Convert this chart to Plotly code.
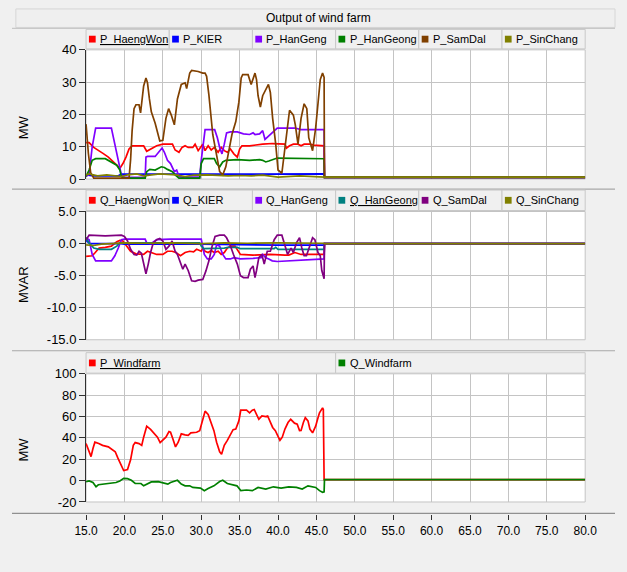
import plotly.graph_objects as go

# ---------------- data (time in s) ----------------
X_TICKS = [15, 20, 25, 30, 35, 40, 45, 50, 55, 60, 65, 70, 75, 80]
X_LABELS = ["15.0", "20.0", "25.0", "30.0", "35.0", "40.0", "45.0", "50.0",
            "55.0", "60.0", "65.0", "70.0", "75.0", "80.0"]
P_TICKS = [0, 10, 20, 30, 40]
P_LABELS = ["0", "10", "20", "30", "40"]
Q_TICKS = [-15, -10, -5, 0, 5]
Q_LABELS = ["-15.0", "-10.0", "-5.0", "0.0", "5.0"]
W_TICKS = [-20, 0, 20, 40, 60, 80, 100]
W_LABELS = ["-20", "0", "20", "40", "60", "80", "100"]

P_NAMES = ["P_HaengWon", "P_KIER", "P_HanGeng", "P_HanGeong", "P_SamDal", "P_SinChang"]
P_COLORS = ["#ff0000", "#0000ff", "#8000ff", "#008000", "#804000", "#808000"]
Q_NAMES = ["Q_HaengWon", "Q_KIER", "Q_HanGeng", "Q_HanGeong", "Q_SamDal", "Q_SinChang"]
Q_COLORS = ["#ff0000", "#0000ff", "#8000ff", "#008080", "#800080", "#808000"]
W_NAMES = ["P_Windfarm", "Q_Windfarm"]
W_COLORS = ["#ff0000", "#008000"]

P_HAENGWON = [(15, 11.3), (15.4, 11.3), (16, 9.8), (16.7, 8.8), (17.3, 7.8), (17.9, 6.8),
              (18.5, 5.6), (19, 4.3), (19.4, 3.3), (19.8, 4.8), (20.2, 6.8), (20.6, 9.3),
              (21, 10.3), (22.5, 10.3), (22.9, 8.6), (23.5, 9.3), (24.2, 10.3), (25, 10.8),
              (26.25, 10.8), (26.6, 9.0), (27.1, 8.3), (27.5, 9.8), (27.9, 10.3), (28.3, 9.8),
              (28.9, 9.8), (29.2, 10.8), (29.6, 8.8), (30.2, 10.8), (30.5, 8.8), (30.9, 10.3),
              (31.3, 9.0), (31.7, 9.8), (32.2, 8.3), (32.6, 9.8), (33, 8.8), (33.4, 8.3),
              (33.8, 9.3), (34.25, 7.8), (34.7, 6.8), (35, 9.3), (35.3, 10.3), (36.3, 10.3),
              (37.2, 10.6), (38, 10.8), (39.25, 11.0), (40.5, 11.0), (40.9, 10.8), (41.1, 9.6),
              (41.5, 10.3), (42, 10.8), (42.6, 10.8), (43, 10.3), (43.4, 10.8), (44.2, 10.8),
              (44.6, 10.5), (46.0, 10.3), (46.05, 0.5), (80, 0.5)]
P_KIER = [(15, 1.3), (16, 1.0), (19.2, 1.0), (19.6, 1.5), (30, 1.5), (35, 1.6), (46.0, 1.6),
          (46.05, 0.5), (80, 0.5)]
P_HANGENG = [(15, 0.8), (15.4, 1.5), (15.8, 10.0), (16.25, 15.8), (18.3, 15.8), (18.75, 10.8),
             (19.2, 5.8), (19.6, 1.3), (20.0, 0.5), (22.7, 0.5), (22.8, 6.8), (23.0, 7.0),
             (24.0, 7.0), (24.6, 8.8), (24.9, 9.6), (25.2, 8.3), (25.6, 5.8), (26.0, 4.8),
             (26.5, 2.3), (26.8, 2.8), (27.1, 0.8), (27.5, 0.6), (29.8, 0.6), (30.0, 5.8),
             (30.4, 14.8), (30.5, 15.3), (31.75, 15.3), (32.1, 12.8), (32.4, 9.8), (32.7, 7.8),
             (33.0, 10.8), (33.3, 14.3), (33.8, 14.6), (34.7, 14.6), (35.5, 14.0), (36.3, 13.8),
             (36.75, 14.3), (37.0, 13.8), (37.6, 14.0), (38.0, 15.0), (38.3, 12.3), (38.8, 13.3),
             (39.5, 14.8), (39.9, 15.8), (42.2, 15.8), (43.0, 15.3), (46.0, 15.3), (46.05, 0.5),
             (80, 0.5)]
P_HANGEONG = [(15, 0.8), (15.4, 2.8), (15.8, 5.8), (16.25, 6.3), (17.5, 6.3), (18.3, 5.3),
              (19.0, 4.3), (19.4, 2.8), (19.6, 0.8), (19.8, 0.3), (22.7, 0.3), (22.9, 2.3),
              (23.3, 3.0), (24.0, 2.8), (24.4, 3.3), (24.8, 3.8), (25.2, 3.6), (25.6, 3.0),
              (26.25, 2.3), (26.6, 1.3), (27.1, 0.3), (29.8, 0.3), (30.0, 4.8), (30.3, 6.3),
              (31.7, 6.3), (32.0, 4.8), (32.4, 3.8), (32.8, 5.3), (33.2, 5.8), (34.7, 6.0),
              (36.3, 5.8), (37.6, 6.0), (38.0, 5.8), (38.4, 5.3), (38.8, 5.6), (39.5, 6.1),
              (39.9, 6.5), (46.0, 6.3), (46.05, 0.5), (80, 0.5)]
P_SAMDAL = [(15, 17), (15.3, 8), (15.6, 2), (16.0, 0.3), (20.6, 0.3), (20.8, 6), (21.0, 15),
            (21.25, 21.8), (21.5, 23), (21.9, 23), (22.1, 20.5), (22.5, 28.8), (22.8, 31.3),
            (23.0, 29.8), (23.25, 24.8), (23.5, 20.8), (24.0, 17.3), (24.4, 13.8), (24.6, 11.8),
            (25.0, 12), (25.4, 18.8), (25.75, 21.8), (26.1, 19.8), (26.5, 16.8), (26.9, 24.8),
            (27.4, 29.3), (27.9, 29.8), (28.1, 28), (28.5, 32.8), (28.75, 33.6), (29.6, 33.3),
            (30.2, 32.8), (30.5, 32.8), (30.7, 31.8), (31.0, 26.0), (31.5, 13.8), (32.0, 6.8),
            (32.4, 2.3), (32.8, 1.3), (33.2, 3.8), (33.6, 8.8), (34.0, 13.8), (34.5, 17.8),
            (34.9, 23.8), (35.2, 31.3), (35.4, 32.3), (36.1, 32.3), (36.5, 29.3), (37.0, 32.8),
            (37.2, 30.8), (37.4, 25.8), (37.7, 22.3), (38.0, 25.8), (38.4, 27.8), (38.75, 29.3),
            (39.0, 26.8), (39.3, 18.8), (39.7, 10.8), (40.0, 2.8), (40.5, 1.8), (40.8, 7.8),
            (41.25, 17.8), (41.5, 21.3), (42.0, 19.8), (42.25, 16.8), (42.6, 10.8), (43.0, 18.8),
            (43.4, 23.3), (43.75, 21.8), (44.0, 12.8), (44.5, 8.8), (44.9, 15.8), (45.2, 23.8),
            (45.5, 30.8), (45.8, 32.8), (46.0, 31.5), (46.05, 0.5), (80, 0.5)]
P_SINCHANG = [(15, 1.3), (15.4, 1.6), (16.5, 1.0), (17.7, 1.3), (19.6, 0.8), (20.4, 1.3),
              (21.6, 1.6), (22.5, 1.0), (24.6, 1.6), (26.7, 1.3), (27.9, 0.8), (29, 1.2),
              (30.8, 1.3), (32, 1.1), (33.5, 1.0), (35, 1.1), (36.5, 1.0), (38, 1.2), (40, 0.6),
              (42.8, 1.0), (44, 0.9), (45.5, 0.6), (46.0, 0.6), (46.05, 0.6), (80, 0.6)]

Q_HAENGWON = [(15, -2.0), (15.8, -1.9), (16.2, -1.4), (16.7, -0.7), (17.5, -0.6), (18.3, -0.4),
              (19.0, 0.3), (19.4, 0.5), (19.8, 0.4), (20.2, -0.2), (20.8, -1.2), (21.5, -1.6),
              (22.5, -1.7), (23.0, -1.2), (23.5, -1.4), (24.2, -1.7), (25.0, -1.7), (25.6, -1.2),
              (26.2, -1.2), (26.7, -1.4), (27.3, -1.9), (27.9, -1.4), (28.5, -1.2), (29.0, -1.3),
              (29.4, -0.9), (30.0, -1.2), (30.2, -0.7), (30.5, -1.2), (30.9, -1.4), (31.3, -1.1),
              (31.7, -1.4), (32.2, -1.2), (32.6, -1.7), (33.0, -1.4), (33.4, -0.7), (33.8, -0.4),
              (34.4, -0.4), (34.7, -0.9), (35.1, -1.7), (36.75, -1.8), (39.0, -1.7), (40.9, -1.8),
              (41.4, -1.8), (42.2, -1.4), (43.0, -1.7), (46.0, -1.7), (46.05, 0.0), (80, 0.0)]
Q_KIER = [(15, 0.5), (15.5, 0.0), (19.5, 0.0), (20.0, -0.1), (30.0, -0.1), (35.0, -0.2),
          (39.9, -0.2), (40.0, -0.25), (46.0, -0.25), (46.05, 0.0), (80, 0.0)]
Q_HANGENG = [(15, 0.9), (15.4, 0.6), (15.8, -1.7), (16.25, -2.7), (18.3, -2.7), (18.75, -1.9),
             (19.2, -0.7), (19.6, 0.6), (20.0, 0.7), (22.7, 0.7), (22.9, 0.1), (23.5, 0.0),
             (24.2, 0.6), (26.0, 0.7), (30.0, 0.7), (30.2, -0.7), (30.4, -1.7), (30.8, -2.4),
             (31.3, -2.4), (31.7, -1.7), (32.0, -0.2), (32.4, -0.4), (32.8, -1.7), (33.2, -2.4),
             (33.8, -2.4), (34.25, -2.2), (35.1, -2.4), (36.75, -2.3), (37.8, -2.2), (38.0, -1.7),
             (38.4, -2.2), (38.8, -2.4), (39.25, -2.7), (39.9, -2.8), (46.0, -2.4), (46.05, 0.0),
             (80, 0.0)]
Q_HANGEONG = [(15, 0.9), (15.4, 0.1), (16.0, -0.7), (16.7, -0.9), (18.3, -0.9), (19.0, -0.4),
              (19.4, 0.1), (29.8, 0.1), (30.0, -0.4), (30.3, -0.8), (33.0, -0.7), (33.5, -0.6),
              (34.7, -0.6), (35.1, -0.8), (39.5, -0.8), (39.7, -0.6), (40.0, -0.9), (46.0, -0.9),
              (46.05, 0.0), (80, 0.0)]
Q_SAMDAL = [(15, 0.6), (15.4, 1.3), (17.5, 1.2), (19.6, 1.3), (20.0, 1.1), (20.4, 0.4),
            (20.8, -0.9), (21.25, -1.7), (21.6, -1.8), (21.9, -1.2), (22.2, -1.5), (22.5, -3.0),
            (22.8, -4.7), (23.1, -3.2), (23.4, -1.4), (23.75, 0.1), (24.2, 0.6), (24.6, 0.8),
            (25.0, 0.4), (25.4, -0.9), (25.8, -0.4), (26.2, 0.4), (26.6, -1.2), (26.9, -1.7),
            (27.3, -3.0), (27.6, -4.0), (27.9, -3.2), (28.3, -4.2), (28.75, -5.8), (29.2, -5.9),
            (29.6, -5.7), (30.2, -5.6), (30.6, -4.3), (31.0, -2.7), (31.4, -0.5), (31.8, 1.1),
            (32.4, 1.3), (33.0, 1.3), (33.3, 0.9), (33.75, -0.2), (34.2, -1.7), (34.7, -3.2),
            (35.1, -5.0), (35.5, -5.3), (36.1, -5.3), (36.4, -4.0), (36.75, -3.5), (37.0, -5.3),
            (37.2, -4.2), (37.5, -2.2), (37.9, -1.7), (38.2, -3.2), (38.6, -1.2), (39.0, -1.2),
            (39.5, 0.6), (39.9, 1.3), (40.5, 1.3), (40.9, -0.2), (41.25, -1.7), (41.7, -0.7),
            (42.0, -1.4), (42.4, 0.1), (42.8, 0.9), (43.1, -0.7), (43.4, -1.9), (43.7, -1.9),
            (44.0, -0.7), (44.5, 0.9), (44.8, 0.6), (45.2, -1.4), (45.5, -1.9), (45.7, -4.2),
            (46.0, -5.5), (46.05, 0.0), (80, 0.0)]
Q_SINCHANG = [(15, -0.2), (16, -0.3), (17, -0.1), (18, 0.0), (20, 0.1), (23, 0.05), (26, 0.1),
              (30, 0.0), (33, 0.1), (36, 0.05), (40, 0.1), (46.0, 0.05), (46.05, 0.0), (80, 0.0)]

P_WINDFARM = [(15, 34.7), (15.4, 27), (15.65, 22.5), (15.9, 30), (16.15, 36), (16.65, 34.7),
              (17.15, 33), (17.9, 31.6), (18.4, 28.6), (18.8, 27), (19.15, 21), (19.5, 15),
              (19.9, 9.4), (20.4, 10.3), (20.8, 19.5), (21.15, 33), (21.4, 35.6), (21.9, 34.7),
              (22.25, 33), (22.5, 40.7), (22.9, 51), (23.4, 48), (23.8, 44.7), (24.3, 40.7),
              (24.65, 35.6), (25.15, 38.6), (25.4, 40.7), (25.8, 45.9), (26.0, 45.3), (26.3, 39.2),
              (26.65, 31.6), (27.0, 36), (27.4, 43.8), (27.9, 42.9), (28.3, 42.3), (28.65, 44.7),
              (29.0, 45.3), (29.4, 45.3), (29.8, 46.8), (30.15, 57.4), (30.5, 65), (30.9, 62),
              (31.3, 52.9), (31.65, 46.8), (32.0, 36), (32.4, 27), (32.65, 24.6), (33.0, 33),
              (33.4, 37.7), (33.8, 43.8), (34.15, 47.7), (34.5, 48.3), (34.9, 55.9), (35.15, 66),
              (35.9, 66), (36.3, 63.5), (36.65, 66), (36.9, 66.6), (37.15, 62), (37.5, 57.4),
              (37.9, 60.5), (38.4, 59.9), (38.65, 60.5), (38.9, 55.9), (39.3, 49.8), (39.65, 46.8),
              (39.9, 42.3), (40.25, 37.7), (40.55, 40.7), (40.9, 48.3), (41.3, 54.4), (41.65, 57.4),
              (42.15, 53.8), (42.5, 52.9), (42.8, 46.8), (43.0, 47), (43.3, 54.4), (43.55, 59),
              (43.9, 55.9), (44.15, 48.3), (44.5, 44.7), (44.9, 51), (45.15, 57.4), (45.4, 63.5),
              (45.8, 68.1), (45.9, 66.6), (46.0, 1.0), (80, 1.0)]
Q_WINDFARM = [(15, -1), (15.4, -0.3), (15.9, -1.8), (16.3, -5.7), (16.6, -3.9), (17.4, -3.3),
              (18.4, -2.7), (18.9, -1.8), (19.4, -0.3), (19.9, 2.1), (20.4, 1.8), (20.9, 0.3),
              (21.4, -2.7), (22.15, -2.7), (22.5, -4.9), (22.9, -3.3), (23.5, -1.2), (24.4, -0.9),
              (25.15, -2.7), (25.65, -3.3), (26.0, -1.8), (26.4, -0.9), (26.9, 0.3), (27.4, -3.3),
              (27.9, -4.9), (28.5, -4.9), (28.9, -6.4), (29.9, -7), (30.4, -9.4), (30.9, -7.3),
              (31.65, -4.9), (32.4, -0.9), (32.8, 0.3), (33.4, -2.7), (34.15, -3.9), (34.65, -4.9),
              (35.15, -9.4), (35.9, -8.8), (36.65, -9.4), (37.4, -6.4), (38.4, -7.9), (39.4, -5.8),
              (40.4, -7), (41.4, -5.8), (42.4, -6.4), (43.15, -7.9), (43.9, -4.9), (44.9, -6.4),
              (45.4, -9.4), (45.8, -10.9), (46.0, -10.5), (46.05, 1.0), (80, 1.0)]

P_SERIES = [P_HAENGWON, P_KIER, P_HANGENG, P_HANGEONG, P_SAMDAL, P_SINCHANG]
Q_SERIES = [Q_HAENGWON, Q_KIER, Q_HANGENG, Q_HANGEONG, Q_SAMDAL, Q_SINCHANG]
W_SERIES = [P_WINDFARM, Q_WINDFARM]

# ---------------- layout helpers ----------------
W, H = 627, 572
FONT = "Liberation Sans, Arial, sans-serif"
GRID = "#c4c4c4"


def fx(px):
    return px / W


def fy(py):
    return 1 - py / H


PLOT_L, PLOT_R = 77, 596
fig = go.Figure()

for series, names, colors, xa, ya in [(P_SERIES, P_NAMES, P_COLORS, "x", "y"),
                                      (Q_SERIES, Q_NAMES, Q_COLORS, "x2", "y2"),
                                      (W_SERIES, W_NAMES, W_COLORS, "x3", "y3")]:
    for pts, name, col in zip(series, names, colors):
        t = [p[0] for p in pts]
        v = [p[1] for p in pts]
        fig.add_trace(go.Scatter(x=t, y=v, mode="lines", name=name, showlegend=False,
                                 line=dict(color=col, width=1.7), xaxis=xa, yaxis=ya,
                                 hoverinfo="skip"))

xbase = dict(domain=[fx(PLOT_L), fx(PLOT_R)], range=[15, 80], tickvals=X_TICKS,
             ticktext=X_LABELS, showgrid=True, gridcolor=GRID, gridwidth=1,
             zeroline=False, fixedrange=True)
ybase = dict(showgrid=True, gridcolor=GRID, gridwidth=1, zeroline=False, ticks="outside",
             ticklen=6, tickcolor="#303030", showline=True, linecolor="#303030", linewidth=1,
             tickfont=dict(family=FONT, size=13, color="#000"), fixedrange=True)

fig.update_layout(
    width=W, height=H, margin=dict(l=0, r=0, t=0, b=0),
    paper_bgcolor="#f0f0f0", plot_bgcolor="#ffffff", showlegend=False,
    font=dict(family=FONT, size=13, color="#000"),
    xaxis=dict(xbase, anchor="y", showticklabels=False, ticks=""),
    xaxis2=dict(xbase, anchor="y2", showticklabels=False, ticks=""),
    xaxis3=dict(xbase, anchor="free", position=fy(521), showticklabels=True,
                ticks="outside", ticklen=5, tickcolor="#303030", showline=False,
                tickfont=dict(family=FONT, size=12, color="#000")),
    yaxis=dict(ybase, domain=[fy(176.7), fy(44)], range=[0, 40], anchor="x",
               tickvals=P_TICKS, ticktext=P_LABELS),
    yaxis2=dict(ybase, domain=[fy(341.7), fy(210)], range=[-15, 5], anchor="x2",
                tickvals=Q_TICKS, ticktext=Q_LABELS),
    yaxis3=dict(ybase, domain=[fy(508.3), fy(376.7)], range=[-20, 100], anchor="x3",
                tickvals=W_TICKS, ticktext=W_LABELS),
)

shapes = []
annotations = []

# title band
shapes.append(dict(type="rect", xref="paper", yref="paper", x0=fx(4), x1=fx(627),
                   y0=fy(21), y1=fy(2), fillcolor="#efefef",
                   line=dict(color="#d6d6d6", width=1), layer="below"))
annotations.append(dict(text="Output of wind farm", xref="paper", yref="paper",
                        x=fx(319), y=fy(11), xanchor="center", yanchor="middle",
                        showarrow=False, font=dict(family=FONT, size=12, color="#000")))

# panel separators
for py, col in [(22, "#c8c8c8"), (187, "#a8a8a8"), (353, "#a8a8a8"), (520, "#909090")]:
    shapes.append(dict(type="line", xref="paper", yref="paper", x0=0, x1=1,
                       y0=fy(py), y1=fy(py), line=dict(color=col, width=1.2)))

# plot frames
for xr, yr in [("x", "y"), ("x2", "y2"), ("x3", "y3")]:
    shapes.append(dict(type="rect", xref=xr + " domain", yref=yr + " domain", x0=0, x1=1,
                       y0=0, y1=1, line=dict(color=GRID, width=1), layer="below"))


def legend_row(names, colors, y_top, y_bot, underline):
    n = len(names)
    w = (PLOT_R - PLOT_L) / n
    yc = (y_top + y_bot) / 2
    for i, (nm, col) in enumerate(zip(names, colors)):
        x0 = PLOT_L + i * w
        shapes.append(dict(type="rect", xref="paper", yref="paper", x0=fx(x0), x1=fx(x0 + w),
                           y0=fy(y_bot), y1=fy(y_top), fillcolor="#f0f0f0",
                           line=dict(color="#c8c8c8", width=1)))
        shapes.append(dict(type="rect", xref="paper", yref="paper", x0=fx(x0 + 3),
                           x1=fx(x0 + 10), y0=fy(yc + 3.5), y1=fy(yc - 3.5),
                           fillcolor=col, line=dict(width=0)))
        txt = nm
        if i == underline:
            txt = "<span style='text-decoration:underline'>" + nm + "</span>"
        annotations.append(dict(text=txt, xref="paper", yref="paper", x=fx(x0 + 12.5),
                                y=fy(yc), xanchor="left", yanchor="middle", showarrow=False,
                                font=dict(family=FONT, size=11, color="#000")))


legend_row(P_NAMES, P_COLORS, 23, 43, 0)
legend_row(Q_NAMES, Q_COLORS, 188, 209, 3)
legend_row(W_NAMES, W_COLORS, 355, 376, 0)

for txt, py in [("MW", 124), ("MVAR", 285), ("MW", 455)]:
    annotations.append(dict(text=txt, xref="paper", yref="paper", x=fx(12), y=fy(py),
                            xanchor="center", yanchor="middle", textangle=-90,
                            showarrow=False, font=dict(family=FONT, size=13, color="#000")))

fig.update_layout(shapes=shapes, annotations=annotations)
fig.write_html("out.html")
